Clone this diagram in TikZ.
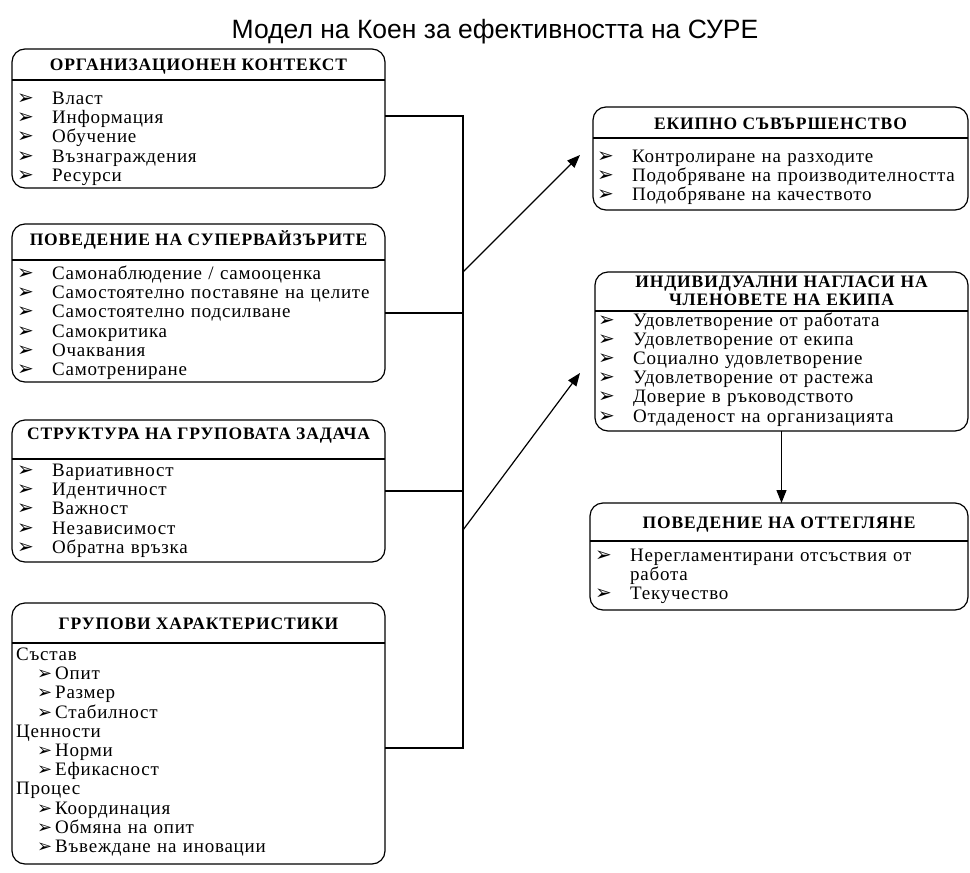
\documentclass[tikz,border=0pt]{standalone}
\usepackage{fontspec}
\setmainfont{Liberation Serif}
\newfontfamily\titlefont{Liberation Sans}
\newfontfamily\itemfont[LetterSpace=4]{Liberation Serif}
\newfontfamily\headfont[LetterSpace=5]{Liberation Serif}
\newfontfamily\symfont{DejaVu Sans}
\usetikzlibrary{
  arrows.meta,
  positioning,
  calc
}
\newcommand{\bul}{\makebox[35pt][l]{\symfont\fontsize{20}{16}\selectfont ➢}}
\newcommand{\sbul}{\hspace*{21pt}\makebox[18pt][l]{\symfont\fontsize{18}{16}\selectfont ➢}}

\begin{document}
\begin{tikzpicture}[
  x=1pt, y=-1pt,
  frame/.style={draw, rounded corners=13pt, line width=1.2pt, anchor=north west,
                inner sep=0pt, outer sep=0pt},
  head/.style={font=\headfont\bfseries\fontsize{17.5}{18}\selectfont,
               anchor=base, align=center, inner sep=0pt},
  body/.style={font=\itemfont\fontsize{19}{19.2}\selectfont, text width=400pt,
               anchor=base west, align=left, inner sep=0pt},
  line/.style={line width=1.2pt},
  arr/.style={-{Triangle[length=13pt,width=10pt]}, line width=1.2pt}
]
\useasboundingbox (0,0) rectangle (970,873);

\node[font=\titlefont\fontsize{26.5}{28}\selectfont, anchor=base] (title)
      at (495,38) {Модел на Коен за ефективността на СУРЕ};

% left column
\node[frame, minimum width=373pt, minimum height=139pt] (l1) at (12,49) {};
\node[head] (l1h) at (198.5,70.5) {ОРГАНИЗАЦИОНЕН КОНТЕКСТ};
\draw[line] (l1.west |- 0,80) -- (l1.east |- 0,80);
\node[body] (l1b) at (17,104.5)
      {\bul Власт\\ \bul Информация\\ \bul Обучение\\
       \bul Възнаграждения\\ \bul Ресурси};

\node[frame, minimum width=373pt, minimum height=158pt] (l2) at (12,224) {};
\node[head] (l2h) at (198.5,245.5) {ПОВЕДЕНИЕ НА СУПЕРВАЙЗЪРИТЕ};
\draw[line] (l2.west |- 0,260) -- (l2.east |- 0,260);
\node[body] (l2b) at (17,279.5)
      {\bul Самонаблюдение / самооценка\\
       \bul Самостоятелно поставяне на целите\\
       \bul Самостоятелно подсилване\\ \bul Самокритика\\
       \bul Очаквания\\ \bul Самотрениране};

\node[frame, minimum width=373pt, minimum height=142pt] (l3) at (12,420) {};
\node[head] (l3h) at (198.5,439.5) {СТРУКТУРА НА ГРУПОВАТА ЗАДАЧА};
\draw[line] (l3.west |- 0,459) -- (l3.east |- 0,459);
\node[body] (l3b) at (17,476.5)
      {\bul Вариативност\\ \bul Идентичност\\ \bul Важност\\
       \bul Независимост\\ \bul Обратна връзка};

\node[frame, minimum width=373pt, minimum height=261pt] (l4) at (12,603) {};
\node[head] (l4h) at (198.5,629.5) {ГРУПОВИ ХАРАКТЕРИСТИКИ};
\draw[line] (l4.west |- 0,643) -- (l4.east |- 0,643);
\node[body] (l4b) at (16,660.5)
      {Състав\\ \sbul Опит\\ \sbul Размер\\ \sbul Стабилност\\
       Ценности\\ \sbul Норми\\ \sbul Ефикасност\\
       Процес\\ \sbul Координация\\ \sbul Обмяна на опит\\
       \sbul Въвеждане на иновации};

% right column
\node[frame, minimum width=375pt, minimum height=103pt] (r1) at (593,107) {};
\node[head] (r1h) at (780.5,129.5) {ЕКИПНО СЪВЪРШЕНСТВО};
\draw[line] (r1.west |- 0,138) -- (r1.east |- 0,138);
\node[body] (r1b) at (597,162.5)
      {\bul Контролиране на разходите\\
       \bul Подобряване на производителността\\
       \bul Подобряване на качеството};

\node[frame, minimum width=373pt, minimum height=159pt] (r2) at (595,272) {};
\node[head, text width=370pt] (r2h) at (781.5,287)
      {ИНДИВИДУАЛНИ НАГЛАСИ НА\\ ЧЛЕНОВЕТЕ НА ЕКИПА};
\draw[line] (r2.west |- 0,311) -- (r2.east |- 0,311);
\node[body] (r2b) at (598,326)
      {\bul Удовлетворение от работата\\ \bul Удовлетворение от екипа\\
       \bul Социално удовлетворение\\ \bul Удовлетворение от растежа\\
       \bul Доверие в ръководството\\ \bul Отдаденост на организацията};

\node[frame, minimum width=378pt, minimum height=107pt] (r3) at (590,503) {};
\node[head] (r3h) at (779,528.5) {ПОВЕДЕНИЕ НА ОТТЕГЛЯНЕ};
\draw[line] (r3.west |- 0,541) -- (r3.east |- 0,541);
\node[body] (r3b) at (595,561.5)
      {\bul Нерегламентирани отсъствия от\\ \hspace*{35pt}работа\\
       \bul Текучество};

% connectors
\coordinate (b1) at (463,116);
\coordinate (b4) at (463,748);
\coordinate (j2) at (463,313);
\coordinate (j3) at (463,491);
\coordinate (ja) at (463,272);
\coordinate (jb) at (463,530);

\draw[line] (l1.east |- b1) -- (b1) -- (b4) -- (l4.east |- b4);
\draw[line] (l2.east |- j2) -- (j2);
\draw[line] (l3.east |- j3) -- (j3);
\draw[arr] (ja) -- ([xshift=-13pt,yshift=3.5pt]r1.west);
\draw[arr] (jb) -- ([xshift=-15pt,yshift=-21.5pt]r2.west);
\draw[arr] (r2.south) -- (r2.south |- r3.north);

\end{tikzpicture}
\end{document}
